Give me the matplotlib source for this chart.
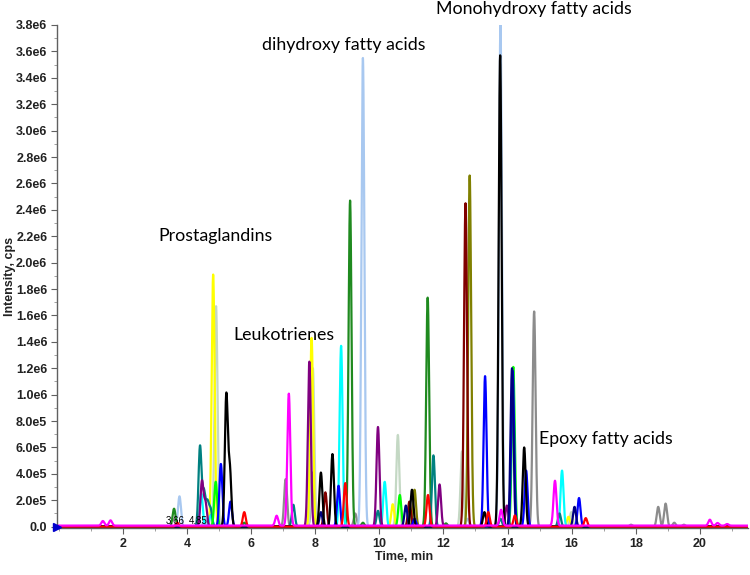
import numpy as np
import matplotlib
matplotlib.use("Agg")
import matplotlib.pyplot as plt
from matplotlib.ticker import MultipleLocator, FuncFormatter

# ---------------- data: retention time (min) and peak height (cps) per trace ----------------
magenta_rt = [1.38, 1.62, 6.80, 7.18, 13.80, 15.48, 20.31, 20.55, 20.85]
magenta_h = [3.5e4, 4.0e4, 7.5e4, 1.00e6, 1.2e5, 3.4e5, 4.5e4, 2.0e4, 1.2e4]
yellow_rt = [4.82, 7.89, 10.42, 15.90]
yellow_h = [1.91e6, 1.43e6, 1.7e5, 7.5e4]
pale_rt = [4.91, 7.93, 10.58, 12.58, 15.99]
pale_h = [1.67e6, 1.20e6, 6.95e5, 5.7e5, 1.1e5]
lightblue_rt = [3.77, 4.56, 9.49, 12.75, 13.78]
lightblue_h = [2.3e5, 7.0e4, 3.55e6, 6.0e4, 3.80e6]
teal_rt = [4.41, 4.53, 4.64, 4.74, 7.32, 9.96, 11.69, 13.78, 15.62]
teal_h = [6.07e5, 2.6e5, 1.8e5, 1.3e5, 1.66e5, 1.2e5, 5.4e5, 6.0e4, 1.0e5]
cyan_rt = [4.45, 4.75, 8.81, 10.17, 15.70]
cyan_h = [2.5e5, 9.0e4, 1.37e6, 3.4e5, 4.25e5]
purple_rt = [4.47, 4.58, 7.82, 9.96, 11.88, 13.98]
purple_h = [3.4e5, 1.8e5, 1.25e6, 7.55e5, 3.2e5, 1.6e5]
lime_rt = [4.90, 10.64, 14.18]
lime_h = [3.4e5, 2.4e5, 1.21e6]
green_rt = [3.60, 5.79, 9.09, 9.49, 11.51, 12.08]
green_h = [1.36e5, 3.0e4, 2.47e6, 3.0e4, 1.735e6, 2.5e4]
blue_rt = [5.06, 5.36, 8.73, 11.10, 13.30, 14.16, 14.58, 16.23]
blue_h = [4.75e5, 1.9e5, 3.1e5, 6.0e4, 1.14e6, 1.18e6, 4.25e5, 2.17e5]
black_rt = [5.23, 5.34, 8.18, 8.54, 11.02, 13.28, 13.77, 14.52]
black_h = [0.99e6, 4.3e5, 4.1e5, 5.5e5, 2.8e5, 1.1e5, 3.57e6, 6.0e5]
navy_rt = [8.18, 10.83, 14.14, 16.09]
navy_h = [1.1e5, 1.6e5, 1.20e6, 1.5e5]
maroon_rt = [8.32, 10.94, 12.69]
maroon_h = [2.6e5, 1.9e5, 2.45e6]
red_rt = [3.70, 5.79, 8.94, 11.52, 13.40, 14.23, 16.44]
red_h = [3.0e4, 1.1e5, 3.3e5, 2.4e5, 1.1e5, 8.5e4, 6.5e4]
olive_rt = [11.10, 12.82]
olive_h = [2.8e5, 2.66e6]
gray_rt = [7.08, 7.92, 9.25, 14.83, 17.85, 18.70, 18.93, 19.20, 19.50]
gray_h = [3.6e5, 4.1e5, 1.0e5, 1.63e6, 1.5e4, 1.5e5, 1.75e5, 3.0e4, 1.5e4]

peak_labels = ["3.66", "4.85"]
peak_label_rt = [3.65, 4.34]

annotations = ["Prostaglandins", "Leukotrienes", "dihydroxy fatty acids",
               "Monohydroxy fatty acids", "Epoxy fatty acids"]
annotation_rt = [3.12, 5.44, 6.34, 11.78, 14.97]
annotation_y = [2.20e6, 1.45e6, 3.648e6, 3.92e6, 6.65e5]

x_ticks = [2, 4, 6, 8, 10, 12, 14, 16, 18, 20]

# ---------------- styles ----------------
traces = [
    (gray_rt, gray_h, "#8c8c8c"),
    (pale_rt, pale_h, "#c4d8c4"),
    (lightblue_rt, lightblue_h, "#a8c8f0"),
    (olive_rt, olive_h, "#808000"),
    (maroon_rt, maroon_h, "#800000"),
    (green_rt, green_h, "#1f8a1f"),
    (yellow_rt, yellow_h, "#ffff00"),
    (cyan_rt, cyan_h, "#00ffff"),
    (teal_rt, teal_h, "#008080"),
    (purple_rt, purple_h, "#800080"),
    (lime_rt, lime_h, "#00ff00"),
    (blue_rt, blue_h, "#0000ff"),
    (navy_rt, navy_h, "#000080"),
    (black_rt, black_h, "#000000"),
    (red_rt, red_h, "#ff0000"),
    (magenta_rt, magenta_h, "#ff00ff"),
]
SIGMA = 0.046
X_MIN, X_MAX = -0.05, 21.5

fig = plt.figure(figsize=(7.5, 5.75), dpi=100)
ax = fig.add_axes([57 / 750, 1 - 528 / 575, (748 - 57) / 750, (528 - 25) / 575])

t = np.linspace(X_MIN, X_MAX, 12000)
for rts, hs, col in traces:
    y = np.zeros_like(t)
    for rt, h in zip(rts, hs):
        y += h * np.exp(-0.5 * ((t - rt) / SIGMA) ** 2)
    if col == "#ff00ff":
        y += 8e3
    ax.plot(t, y, color=col, lw=1.6, solid_joinstyle="round")

ax.plot([X_MIN], [0], marker=">", color="#0000cc", ms=6, clip_on=False, zorder=5)

for lab, rt in zip(peak_labels, peak_label_rt):
    ax.text(rt, 4.5e4, lab, fontsize=7, ha="center", va="center", family="Liberation Sans")

for txt, rt, yv in zip(annotations, annotation_rt, annotation_y):
    ax.text(rt, yv, txt, fontsize=12.8, ha="left", va="center", family="Lato",
            clip_on=False)

ax.set_xlim(X_MIN, X_MAX)
ax.set_ylim(-1e4, 3.8e6)
ax.set_xticks(x_ticks)
ax.xaxis.set_minor_locator(MultipleLocator(1))
ax.yaxis.set_major_locator(MultipleLocator(2e5))
ax.yaxis.set_minor_locator(MultipleLocator(1e5))


def yfmt(v, pos):
    if abs(v) < 1:
        return "0.0"
    if v >= 1e6:
        return f"{v / 1e6:.1f}e6"
    return f"{v / 1e5:.1f}e5"


ax.yaxis.set_major_formatter(FuncFormatter(yfmt))
for s in ["top", "right"]:
    ax.spines[s].set_visible(False)
for s in ["left", "bottom"]:
    ax.spines[s].set_color("#606060")
    ax.spines[s].set_linewidth(1.0)
ax.tick_params(axis="both", which="major", length=4, color="#606060", pad=3)
ax.tick_params(axis="both", which="minor", length=2.5, color="#909090")
for lab in ax.get_xticklabels() + ax.get_yticklabels():
    lab.set_fontweight("bold")
    lab.set_fontsize(9)
    lab.set_family("Liberation Sans")
    lab.set_color("#222222")

fig.text(404 / 750, 1 - 557 / 575, "Time, min", ha="center", va="center",
         fontsize=9, fontweight="bold", family="Liberation Sans", color="#222222")
fig.text(10 / 750, 1 - 276 / 575, "Intensity, cps", ha="center", va="center",
         rotation=90, fontsize=9, fontweight="bold", family="Liberation Sans",
         color="#222222")

fig.savefig("out.png", dpi=100, facecolor="white")
